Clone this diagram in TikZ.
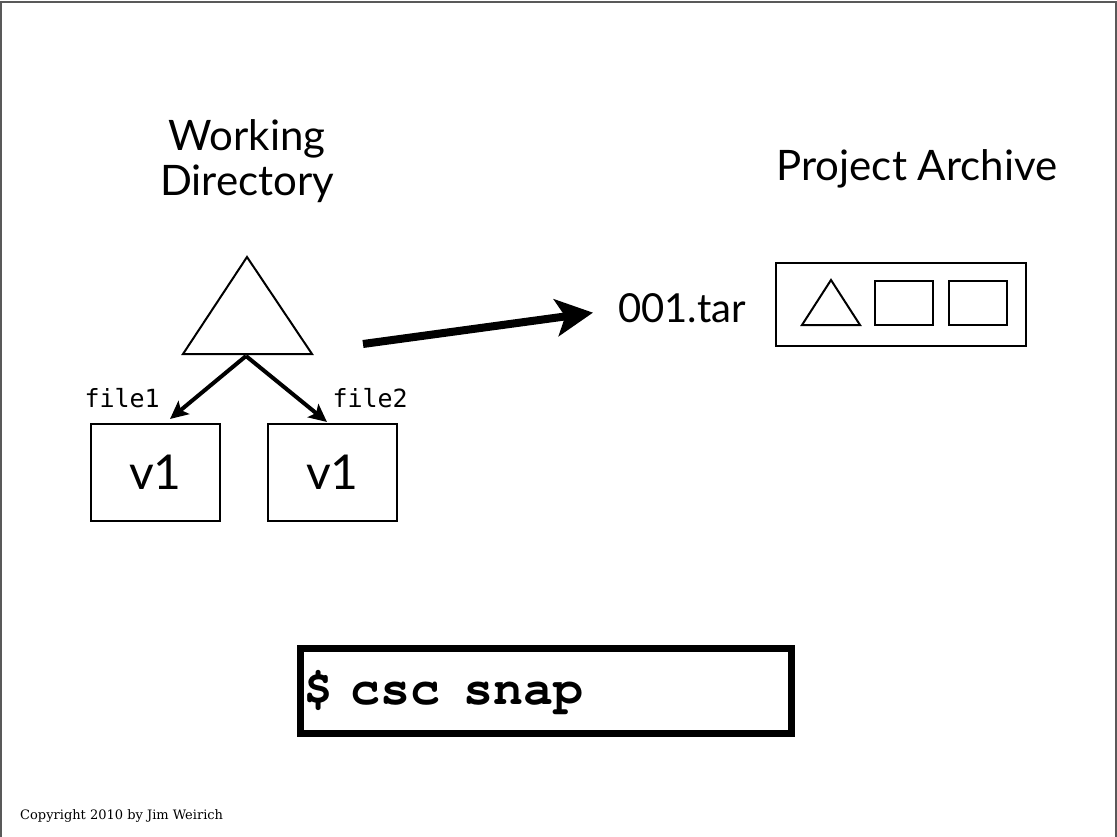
\documentclass[tikz,border=0pt]{standalone}
\usepackage[T1,TU]{fontenc}
\usepackage{fontspec}
\setmainfont{Lato}
\newfontfamily\filefont{DejaVu Sans Mono}
\newcommand\cmdfont{\fontencoding{T1}\fontfamily{pcr}\fontseries{b}\selectfont}
\newfontfamily\notefont{DejaVu Serif}
\usetikzlibrary{positioning}
\usetikzlibrary{arrows.meta}

\begin{document}
\begin{tikzpicture}[
x=1pt, y=-1pt,
heading/.style={font=\fontsize{42}{45}\selectfont, align=center, inner sep=0pt},
versionbox/.style={rectangle, draw, line width=2pt, minimum width=129pt, minimum height=97pt, inner sep=0pt, font=\fontsize{48}{48}\selectfont},
filelabel/.style={font=\filefont\fontsize{25}{25}\selectfont, inner sep=0pt},
treearrow/.style={-{Stealth[length=18pt,width=17pt,inset=4pt]}, line width=4pt},
snaparrow/.style={-{Stealth[length=37pt,width=37pt,inset=9pt]}, line width=8pt},
archivebox/.style={rectangle, draw, line width=2pt, minimum width=250pt, minimum height=82pt},
itembox/.style={rectangle, draw, line width=2pt, minimum width=58pt, minimum height=44pt, inner sep=0pt},
cmdbox/.style={rectangle, draw, line width=7pt, minimum width=491pt, minimum height=85pt, inner sep=3pt, text width=485pt, align=left, font=\fontsize{50}{50}\cmdfont},
]
\useasboundingbox[fill=white] (0,0) rectangle (1117,837);
\draw[gray!70!black, line width=1.5pt] (1,837) -- (1,2) -- (1116,2) -- (1116,837);

%Nodes
\node[heading, anchor=north] (wd)   at (247,119) {Working\\Directory};
\node[heading, anchor=base]  (pa)   at (917,181) {Project Archive};
\node[versionbox]            (v1a)  at (155.5,472.5) {v1};
\node[versionbox]            (v1b)  [right=46pt of v1a] {v1};
\node[filelabel, anchor=south east] (file1) at ([xshift=-61pt,yshift=15pt]v1a.north east) {file1};
\node[filelabel, anchor=south east] (file2) at ([xshift=10pt,yshift=15pt]v1b.north east) {file2};
\node[heading, anchor=base west, font=\fontsize{40}{40}\selectfont] (tar) at (618,322) {001.tar};
\node[archivebox]            (arch) at (901,304.5) {};
\node[itembox]               (sq1)  at (904,303) {};
\node[itembox]               (sq2)  [right=14pt of sq1] {};
\node[cmdbox]                (cmd)  at (546,691) {\$ csc\hspace{7pt} snap};
\node[font=\notefont\fontsize{13}{13}\selectfont, anchor=base west, inner sep=0pt] (note) at (20,819) {Copyright 2010 by Jim Weirich};

%Shapes
\draw[line width=2pt, line join=miter] (247,257) -- (183,354) -- (312,354) -- cycle;
\draw[line width=2pt, line join=miter] (831,280) -- (802,325) -- (860,325) -- cycle;
\coordinate (root) at (246,356);
\coordinate (snaptail) at (363,344);

%Lines
\draw[treearrow] (root) -- ([xshift=-51pt,yshift=4pt]v1a.north east);
\draw[treearrow] (root) -- ([xshift=60pt,yshift=1pt]v1b.north west);
\draw[snaparrow] (snaptail) -- ([xshift=-25pt,yshift=-5pt]tar.west);
\end{tikzpicture}
\end{document}
